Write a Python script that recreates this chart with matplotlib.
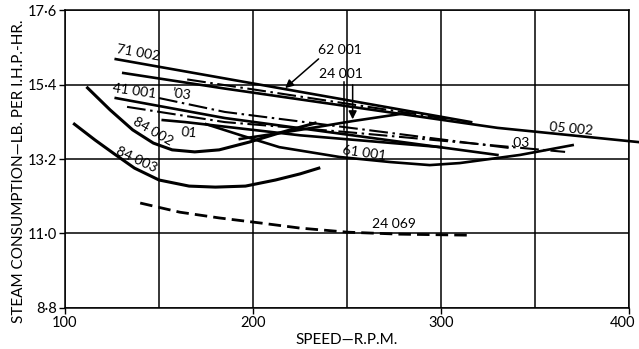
import matplotlib
matplotlib.use("Agg")
import matplotlib.pyplot as plt
import matplotlib.transforms as mtransforms

plt.rcParams['font.family'] = ['Lato', 'DejaVu Sans']

# locomotive test curves: speed (r.p.m.) vs steam per i.h.p.-hr (lb)
speed_71002 = [127, 316]
steam_71002 = [16.15, 14.29]

speed_05002 = [131, 185, 250, 280, 330, 405]
steam_05002 = [15.74, 15.28, 14.76, 14.52, 14.12, 13.70]

speed_62001 = [165, 310]
steam_62001 = [15.55, 14.33]

speed_41001 = [127, 185, 330]
steam_41001 = [15.00, 14.41, 13.32]

speed_41003 = [150, 185, 337]
steam_41003 = [15.00, 14.59, 13.52]

speed_dashdot = [133, 185, 249, 366]
steam_dashdot = [14.74, 14.29, 14.00, 13.41]

speed_01 = [152, 164, 225, 300]
steam_01 = [14.35, 14.29, 13.90, 13.55]

speed_61001 = [175, 193, 214, 246, 273, 294, 310, 342, 370]
steam_61001 = [14.23, 13.91, 13.55, 13.26, 13.11, 13.02, 13.08, 13.32, 13.61]

speed_24001 = [193, 225, 253, 282]
steam_24001 = [13.79, 14.06, 14.32, 14.56]

speed_84002 = [112, 124, 136, 147, 157, 169, 182, 198, 214, 233]
steam_84002 = [15.30, 14.65, 14.06, 13.67, 13.47, 13.41, 13.47, 13.70, 13.97, 14.26]

speed_84003 = [105, 116, 127, 137, 150, 166, 180, 196, 212, 225, 235]
steam_84003 = [14.23, 13.76, 13.32, 12.93, 12.58, 12.40, 12.37, 12.40, 12.58, 12.76, 12.93]

speed_24069 = [140, 161, 182, 204, 225, 250, 278, 315]
steam_24069 = [11.90, 11.63, 11.46, 11.31, 11.16, 11.04, 10.98, 10.95]

y_ticks = [8.8, 11.0, 13.2, 15.4, 17.6]
x_ticks = [100, 200, 300, 400]

fig = plt.figure(figsize=(6.39, 3.49), dpi=100)
ax = fig.add_axes([0.1017, 0.1175, 0.8827, 0.8538])

lw = 1.9
dashdot = (0, (9, 2.2, 1.2, 2.2))
ax.plot(speed_71002, steam_71002, color='black', lw=lw)
ax.plot(speed_05002, steam_05002, color='black', lw=lw, clip_on=False)
ax.plot(speed_62001, steam_62001, color='black', lw=1.5, ls=dashdot)
ax.plot(speed_41001, steam_41001, color='black', lw=lw)
ax.plot(speed_41003, steam_41003, color='black', lw=1.5, ls=dashdot)
ax.plot(speed_dashdot, steam_dashdot, color='black', lw=1.5, ls=dashdot)
ax.plot(speed_01, steam_01, color='black', lw=lw)
ax.plot(speed_61001, steam_61001, color='black', lw=lw)
ax.plot(speed_24001, steam_24001, color='black', lw=lw)
ax.plot(speed_84002, steam_84002, color='black', lw=2.2)
ax.plot(speed_84003, steam_84003, color='black', lw=2.2)
ax.plot(speed_24069, steam_24069, color='black', lw=2.0, ls=(0, (4.5, 2.2)))

# curve labels
lab = dict(fontsize=10, color='black', ha='center', va='center')
ax.text(139, 16.33, '71 002', rotation=-10, **lab)
ax.text(246, 16.42, '62 001', **lab)
ax.text(247, 15.71, '24 001', **lab)
ax.text(137, 15.21, '41 001', rotation=-8, **lab)
ax.text(162, 15.12, '\u201903', rotation=-8, **lab)
ax.text(166, 13.99, '01', rotation=-5, **lab)
ax.text(147, 14.00, '84 002', rotation=-30, **lab)
ax.text(138, 13.17, '84 003', rotation=-25, **lab)
ax.text(259, 13.38, '61 001', rotation=-8, **lab)
ax.text(369, 14.09, '05 002', rotation=-5, **lab)
ax.text(342, 13.68, '.03', **lab)
ax.text(275, 11.27, '24 069', **lab)

# pointers from the labels to their curves
ax.annotate('', xy=(216, 15.24), xytext=(236, 16.21),
            arrowprops=dict(arrowstyle='-|>', color='black', lw=1.1, mutation_scale=12))
ax.annotate('', xy=(253, 14.29), xytext=(253, 15.47),
            arrowprops=dict(arrowstyle='-|>', color='black', lw=1.1, mutation_scale=12))
ax.plot([248.5, 248.5], [15.47, 14.06], color='black', lw=1.1)

ax.set_xlim(100, 400)
ax.set_ylim(8.8, 17.6)
ax.set_xticks(x_ticks)
ax.set_xticks([150, 250, 350], minor=True)
ax.set_yticks(y_ticks)
ax.set_yticklabels([('%.1f' % v).replace('.', '\u00b7') for v in y_ticks])
ax.grid(True, which='both', axis='x', color='black', lw=1.1)
ax.grid(True, which='major', axis='y', color='black', lw=1.1)
ax.tick_params(which='major', direction='out', length=4, width=1, labelsize=10.5, pad=2)
ax.tick_params(which='minor', length=0)
for s in ax.spines.values():
    s.set_linewidth(1.1)

# keep the last speed label inside the figure
last = ax.get_xticklabels()[-1]
last.set_transform(last.get_transform() +
                   mtransforms.ScaledTranslation(-5 / 72, 0, fig.dpi_scale_trans))

ax.set_xlabel('SPEED\u2014R.P.M.', fontsize=11)
ax.xaxis.set_label_coords(0.50, -0.085)
ax.set_ylabel('STEAM CONSUMPTION\u2014LB. PER I.H.P.-HR.', fontsize=11)
ax.yaxis.set_label_coords(-0.07, 0.46)

plt.savefig('out.png', dpi=100)
